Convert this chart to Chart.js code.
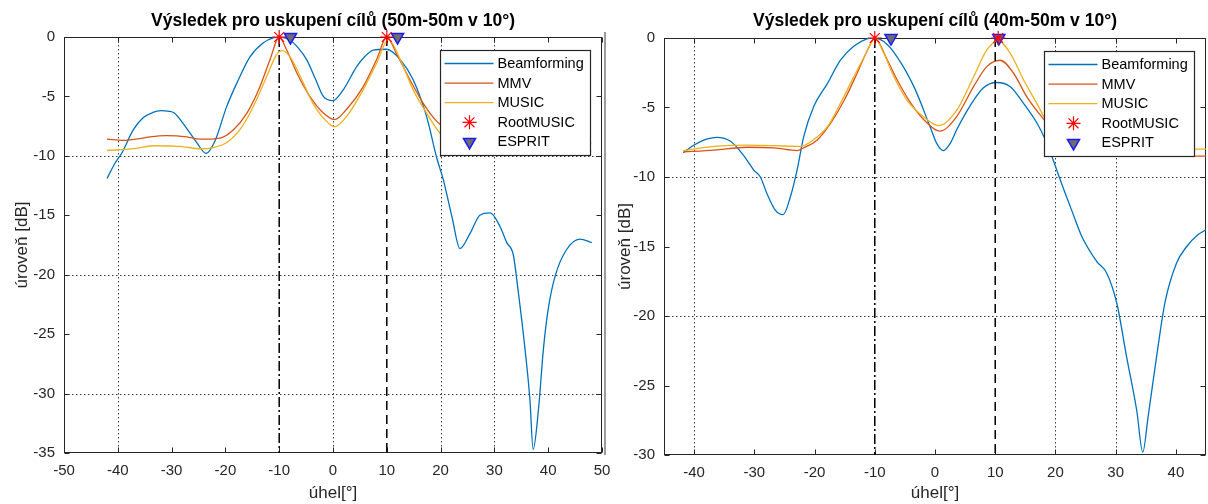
<!DOCTYPE html>
<html><head><meta charset="utf-8">
<script src="https://cdn.jsdelivr.net/npm/chart.js@4.4.1/dist/chart.umd.min.js"></script>
<style>
html,body{margin:0;padding:0;background:#fff;width:1208px;height:504px;overflow:hidden;}
#c1{position:absolute;left:0;top:0;}
#c2{position:absolute;left:604px;top:0;}
</style></head><body>
<canvas id="c1" width="614" height="504"></canvas>
<canvas id="c2" width="604" height="504"></canvas>
<script>
const FONT = '"Liberation Sans", Arial, Helvetica, sans-serif';
const seriesNames = ['Beamforming', 'MMV', 'MUSIC', 'RootMUSIC', 'ESPRIT'];
const xAxisLabel = 'úhel[°]';
const yAxisLabel = 'úroveň [dB]';

// ---------- left chart ----------
const leftTitle = 'Výsledek pro uskupení cílů (50m-50m v 10°)';
const leftXTicks = [-50, -40, -30, -20, -10, 0, 10, 20, 30, 40, 50];
const leftYTicks = [0, -5, -10, -15, -20, -25, -30, -35];
const leftGridX = [-40, 0, 20, 30];
const leftGridY = [-10, -20, -30];
const leftBeamAngle = [-42, -40.5, -39.3, -37.1, -35.3, -33.5, -32, -30.5, -29.5, -27.5, -25.3, -23.6, -21.9, -19.8, -17.9, -15.4, -13, -11, -10, -8, -6.5, -4.9, -3.3, -1.8, 0, 1.9, 4.4, 6, 7.5, 10, 12.5, 14.9, 17.4, 19.3, 20.5, 22.1, 23.6, 25.5, 27.3, 29.2, 31, 32.3, 33.5, 34.4, 35.7, 36.6, 37.2, 38.2, 39.1, 40, 41.3, 43.4, 45.9, 48.1];
const leftBeamLevel = [-11.9, -10.6, -9.8, -7.8, -6.8, -6.35, -6.2, -6.25, -6.4, -7.5, -8.9, -9.8, -8.7, -5.9, -3.9, -1.65, -0.5, -0.05, 0, -0.25, -0.9, -1.9, -3.5, -5.0, -5.35, -4.45, -2.5, -1.6, -1.1, -1.03, -1.9, -3.6, -6.7, -10.2, -12.0, -15.1, -17.8, -16.5, -15.0, -14.8, -15.9, -17.3, -18.3, -21.3, -26.3, -30.5, -34.7, -31.3, -26.3, -22.9, -20.1, -17.9, -17.0, -17.3];
const leftMmvAngle = [-42, -39, -36, -34, -31, -27.2, -24.7, -21, -18.5, -16, -13.6, -11.7, -10, -8.6, -6.7, -4.3, -1.8, 0.3, 2.5, 5.6, 8.1, 10, 11.8, 14.3, 16.8, 19.3, 22, 25, 30, 40, 48];
const leftMmvLevel = [-8.6, -8.7, -8.55, -8.4, -8.3, -8.4, -8.6, -8.5, -7.8, -6.4, -4.2, -1.9, 0, -1.1, -3.05, -5.0, -6.4, -6.95, -6.1, -4.2, -1.9, 0, -1.4, -3.6, -5.6, -7.1, -8.0, -8.6, -8.9, -8.9, -8.9];
const leftMusicAngle = [-42, -37.1, -33.4, -28.4, -24.7, -22.3, -19.8, -17.3, -14.8, -12.3, -10.5, -9.5, -8, -6.1, -3.7, -1.2, 0.3, 2.5, 5.6, 8.1, 10.3, 12.5, 14.9, 17.4, 19.9, 23, 27, 35, 48];
const leftMusicLevel = [-9.55, -9.4, -9.15, -9.2, -9.4, -9.3, -8.9, -7.8, -5.85, -3.3, -1.5, -1.15, -1.65, -3.3, -5.6, -7.1, -7.55, -6.7, -4.45, -2.2, -0.2, -1.9, -4.45, -6.4, -8.1, -9.0, -9.5, -9.6, -9.6];
const leftRootAngle = [-10, 10];
const leftRootLevel = [0, 0];
const leftEspritAngle = [-7.9, 12];
const leftEspritLevel = [0, 0];
const leftTargetDashDot = -10;
const leftTargetDashed = 10;

// ---------- right chart ----------
const rightTitle = 'Výsledek pro uskupení cílů (40m-50m v 10°)';
const rightXTicks = [-40, -30, -20, -10, 0, 10, 20, 30, 40];
const rightYTicks = [0, -5, -10, -15, -20, -25, -30];
const rightGridX = [-40, 20, 30];
const rightGridY = [-10, -20];
const rightBeamAngle = [-41.8, -40, -38.4, -36.2, -33.9, -31.7, -30.1, -29, -27.9, -26.5, -25.2, -24, -22.9, -21.8, -20.1, -17.9, -15.7, -13.5, -11.2, -10.3, -8.5, -6.3, -3.5, -0.8, 0.3, 1.4, 2.5, 3.6, 5.8, 8, 10.2, 12.5, 14.7, 16.9, 18.3, 19.4, 20.5, 22.7, 24.4, 26.9, 28.5, 30.2, 31.8, 33.5, 34.5, 35.4, 36.8, 38.2, 40.1, 41.8, 43.5, 45];
const rightBeamLevel = [-8.25, -7.7, -7.35, -7.15, -7.45, -8.5, -9.5, -10.0, -11.2, -12.4, -12.7, -11.4, -9.5, -7.1, -4.9, -3.3, -1.6, -0.6, -0.05, 0, -0.25, -1.35, -3.5, -6.4, -7.6, -8.1, -7.6, -6.6, -4.9, -3.6, -3.2, -3.5, -4.7, -6.1, -7.3, -8.5, -9.85, -12.4, -14.3, -16.1, -16.9, -19.1, -22.9, -26.8, -29.8, -27.2, -22.9, -19.0, -16.2, -15.0, -14.2, -13.8];
const rightMmvAngle = [-41.8, -36.7, -31.2, -26.7, -22.9, -21.8, -19.6, -17.3, -15.1, -12.9, -11.2, -10, -7.9, -6.3, -4, -1.8, 0.8, 3.6, 6.4, 8.6, 10.8, 13, 15.2, 17.4, 20, 23, 27, 35, 45];
const rightMmvLevel = [-8.2, -8.06, -7.86, -7.9, -8.1, -7.9, -7.35, -6.1, -4.5, -2.5, -0.86, 0, -1.6, -3.0, -4.7, -5.9, -6.7, -5.65, -3.5, -2.06, -1.6, -2.5, -4.2, -5.5, -6.8, -7.8, -8.4, -8.5, -8.5];
const rightMusicAngle = [-41.8, -36.7, -31.2, -26.7, -22.3, -20.6, -17.9, -15.7, -13.5, -11.2, -10, -8.5, -6.8, -4.6, -1.8, 0.6, 3.6, 6.4, 8.6, 10.5, 12.5, 14.7, 16.9, 18.3, 21, 25, 30, 45];
const rightMusicLevel = [-8.1, -7.8, -7.7, -7.75, -7.8, -7.45, -6.4, -4.7, -2.8, -0.9, 0, -1.1, -2.8, -4.5, -5.7, -6.3, -5.2, -2.8, -0.86, -0.2, -1.1, -3.0, -4.7, -5.8, -7.0, -7.8, -8.0, -8.0];
const rightRootAngle = [-10, 10.5];
const rightRootLevel = [0, 0];
const rightEspritAngle = [-7.3, 10.6];
const rightEspritLevel = [0, 0];
const rightTargetDashDot = -10;
const rightTargetDashed = 10;

function pts(xs, ys) { return xs.map((x, i) => ({x: x, y: ys[i]})); }

function decor(d) {
  return {
    id: 'decor',
    beforeDatasetsDraw(chart) {
      const {ctx, chartArea: a, scales: {x, y}} = chart;
      ctx.save();
      // dotted grid
      ctx.strokeStyle = '#3a3a3a'; ctx.lineWidth = 1; ctx.setLineDash([1.5, 2.5]);
      d.gridX.forEach(v => { const p = Math.round(x.getPixelForValue(v)) + 0.5;
        ctx.beginPath(); ctx.moveTo(p, a.top); ctx.lineTo(p, a.bottom); ctx.stroke(); });
      d.gridY.forEach(v => { const p = Math.round(y.getPixelForValue(v)) + 0.5;
        ctx.beginPath(); ctx.moveTo(a.left, p); ctx.lineTo(a.right, p); ctx.stroke(); });
      ctx.setLineDash([]);
      // box
      ctx.strokeStyle = '#262626'; ctx.lineWidth = 1;
      const L = Math.round(a.left) + 0.5, R = Math.round(a.right) - 0.5, T = Math.round(a.top) + 0.5, B = Math.round(a.bottom) - 0.5;
      ctx.strokeRect(L, T, R - L, B - T);
      // inward ticks
      ctx.beginPath();
      d.xTicks.forEach(v => { const p = Math.round(x.getPixelForValue(v)) + 0.5;
        ctx.moveTo(p, B); ctx.lineTo(p, B - 5); ctx.moveTo(p, T); ctx.lineTo(p, T + 5); });
      d.yTicks.forEach(v => { const p = Math.round(y.getPixelForValue(v)) + 0.5;
        ctx.moveTo(L, p); ctx.lineTo(L + 5, p); ctx.moveTo(R, p); ctx.lineTo(R - 5, p); });
      ctx.stroke();
      ctx.restore();
    },
    afterDraw(chart) {
      const {ctx, chartArea: a} = chart;
      ctx.save();
      // title
      ctx.fillStyle = '#000';
      ctx.font = 'bold 17.5px ' + FONT;
      ctx.textAlign = 'center'; ctx.textBaseline = 'middle';
      ctx.fillText(d.title, (a.left + a.right) / 2, 21);
      // separator
      if (d.separator) {
        ctx.strokeStyle = '#9c9c9c'; ctx.lineWidth = 2;
        ctx.beginPath(); ctx.moveTo(1, 32); ctx.lineTo(1, 455); ctx.stroke();
      }
      // legend
      const bw = 150, bh = 105;
      const bx = Math.round(a.right - 12 - bw) + 0.5, by = Math.round(a.top + 13) + 0.5;
      ctx.fillStyle = '#fff'; ctx.fillRect(bx, by, bw, bh);
      ctx.strokeStyle = '#262626'; ctx.lineWidth = 1.2; ctx.strokeRect(bx, by, bw, bh);
      ctx.font = '14.5px ' + FONT; ctx.textAlign = 'left'; ctx.textBaseline = 'middle';
      const items = chart.data.datasets.filter(ds => ds.inLegend);
      items.sort((p, q) => p.legendIndex - q.legendIndex);
      items.forEach((ds, i) => {
        const cy = by + 13 + i * 19.6;
        const cx = bx + 29;
        if (ds.kind === 'line') {
          ctx.strokeStyle = ds.borderColor; ctx.lineWidth = 1.3;
          ctx.beginPath(); ctx.moveTo(bx + 4, cy); ctx.lineTo(bx + 53, cy); ctx.stroke();
        } else if (ds.kind === 'star') {
          ctx.strokeStyle = ds.pointBorderColor; ctx.lineWidth = 1.2;
          const r = 7, r2 = r * Math.SQRT1_2;
          ctx.beginPath();
          ctx.moveTo(cx - r, cy); ctx.lineTo(cx + r, cy);
          ctx.moveTo(cx, cy - r); ctx.lineTo(cx, cy + r);
          ctx.moveTo(cx - r2, cy - r2); ctx.lineTo(cx + r2, cy + r2);
          ctx.moveTo(cx - r2, cy + r2); ctx.lineTo(cx + r2, cy - r2);
          ctx.stroke();
        } else if (ds.kind === 'tri') {
          const r = 7;
          ctx.fillStyle = ds.pointBackgroundColor; ctx.strokeStyle = ds.pointBorderColor; ctx.lineWidth = 1.5;
          ctx.beginPath();
          ctx.moveTo(cx, cy + r);
          ctx.lineTo(cx - r * 0.866, cy - r / 2);
          ctx.lineTo(cx + r * 0.866, cy - r / 2);
          ctx.closePath(); ctx.fill(); ctx.stroke();
        }
        ctx.fillStyle = '#000';
        ctx.fillText(ds.label, bx + 57, cy + 0.5);
      });
      ctx.restore();
    }
  };
}

function build(id, d) {
  const [ymin, ymax] = [Math.min(...d.yTicks), Math.max(...d.yTicks)];
  const datasets = [
    {label: seriesNames[3], kind: 'star', inLegend: true, legendIndex: 3, data: pts(d.rootX, d.rootY), showLine: false,
     pointStyle: 'star', pointRadius: 7, pointBorderColor: '#ff0000', pointBackgroundColor: '#ff0000', pointBorderWidth: 1.2,
     borderColor: '#ff0000', backgroundColor: '#ff0000', clip: false, order: 0},
    {label: seriesNames[4], kind: 'tri', inLegend: true, legendIndex: 4, data: pts(d.espX, d.espY), showLine: false,
     pointStyle: 'triangle', pointRotation: 180, pointRadius: 7, pointBorderColor: '#1a1aff', pointBackgroundColor: '#6e6e6e', pointBorderWidth: 1.5,
     borderColor: '#1a1aff', backgroundColor: '#6e6e6e', clip: false, order: 0},
    {label: seriesNames[0], kind: 'line', inLegend: true, legendIndex: 0, data: pts(d.beamX, d.beamY), borderColor: '#0072BD', borderWidth: 1.3, pointRadius: 0, cubicInterpolationMode: 'monotone', fill: false, order: 3},
    {label: seriesNames[1], kind: 'line', inLegend: true, legendIndex: 1, data: pts(d.mmvX, d.mmvY), borderColor: '#D95319', borderWidth: 1.3, pointRadius: 0, cubicInterpolationMode: 'monotone', fill: false, order: 2},
    {label: seriesNames[2], kind: 'line', inLegend: true, legendIndex: 2, data: pts(d.musX, d.musY), borderColor: '#EDB120', borderWidth: 1.3, pointRadius: 0, cubicInterpolationMode: 'monotone', fill: false, order: 1},
    {label: 'target1', data: [{x: d.tDashDot, y: ymax}, {x: d.tDashDot, y: ymin}], borderColor: '#000', borderWidth: 1.5, borderDash: [10, 3, 2, 3], pointRadius: 0, order: 1},
    {label: 'target2', data: [{x: d.tDashed, y: ymax}, {x: d.tDashed, y: ymin}], borderColor: '#000', borderWidth: 1.5, borderDash: [9, 5], pointRadius: 0, order: 1}
  ];
  const tickFont = {family: FONT, size: 15};
  return new Chart(document.getElementById(id), {
    type: 'line',
    data: {datasets},
    plugins: [decor(d)],
    options: {
      responsive: false, animation: false, devicePixelRatio: 1,
      layout: {autoPadding: false, padding: {left: 0, right: d.padRight, top: d.padTop, bottom: 0}},
      plugins: {legend: {display: false}, title: {display: false}, tooltip: {enabled: false}},
      scales: {
        x: {
          type: 'linear', min: d.xRange[0], max: d.xRange[1],
          grid: {display: false, drawTicks: false}, border: {display: false},
          ticks: {color: '#262626', font: tickFont, padding: 9, autoSkip: false, maxRotation: 0, callback: v => String(v)},
          afterBuildTicks: s => { s.ticks = d.xTicks.map(v => ({value: v})); },
          afterFit: s => { s.height = d.xAxisH; s.paddingLeft = 0; s.paddingRight = 0; },
          title: {display: true, text: xAxisLabel, color: '#262626', font: {family: FONT, size: 17}, padding: {top: 0, bottom: 0}}
        },
        y: {
          type: 'linear', min: ymin, max: ymax,
          grid: {display: false, drawTicks: false}, border: {display: false},
          ticks: {color: '#262626', font: tickFont, padding: 9, autoSkip: false, callback: v => String(v)},
          afterBuildTicks: s => { s.ticks = d.yTicks.map(v => ({value: v})); },
          afterFit: s => { s.width = d.yAxisW; s.paddingTop = 0; s.paddingBottom = 0; },
          title: {display: true, text: yAxisLabel, color: '#262626', font: {family: FONT, size: 17}, padding: {top: d.yTitlePad, bottom: 0}}
        }
      }
    }
  });
}

build('c1', {
  title: leftTitle, xTicks: leftXTicks, yTicks: leftYTicks, gridX: leftGridX, gridY: leftGridY,
  xRange: [leftXTicks[0], leftXTicks[leftXTicks.length - 1]],
  beamX: leftBeamAngle, beamY: leftBeamLevel, mmvX: leftMmvAngle, mmvY: leftMmvLevel, musX: leftMusicAngle, musY: leftMusicLevel,
  rootX: leftRootAngle, rootY: leftRootLevel, espX: leftEspritAngle, espY: leftEspritLevel,
  tDashDot: leftTargetDashDot, tDashed: leftTargetDashed,
  padTop: 37, padRight: 12, xAxisH: 51, yAxisW: 64, yTitlePad: 12, separator: false
});
build('c2', {
  title: rightTitle, xTicks: rightXTicks, yTicks: rightYTicks, gridX: rightGridX, gridY: rightGridY,
  xRange: [-45, 45],
  beamX: rightBeamAngle, beamY: rightBeamLevel, mmvX: rightMmvAngle, mmvY: rightMmvLevel, musX: rightMusicAngle, musY: rightMusicLevel,
  rootX: rightRootAngle, rootY: rightRootLevel, espX: rightEspritAngle, espY: rightEspritLevel,
  tDashDot: rightTargetDashDot, tDashed: rightTargetDashed,
  padTop: 38, padRight: 2, xAxisH: 49, yAxisW: 60, yTitlePad: 11, separator: true
});
</script>
</body></html>
